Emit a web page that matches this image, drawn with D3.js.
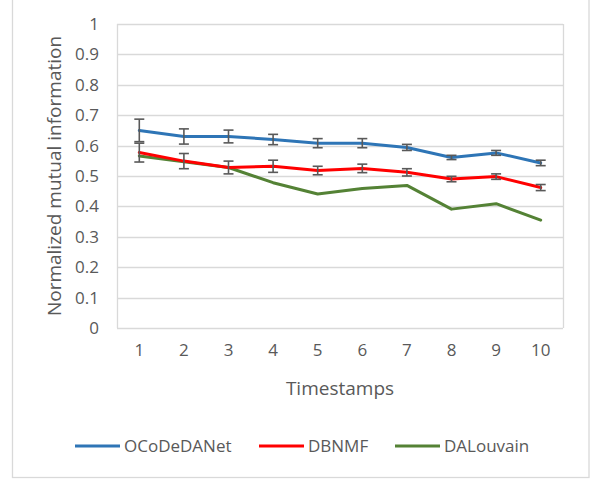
<!DOCTYPE html>
<html><head><meta charset="utf-8">
<script src="https://cdn.jsdelivr.net/npm/d3@7"></script>
<style>body{margin:0;background:#fff;}svg{display:block;}text{font-family:"Open Sans",sans-serif;fill:#595959;}</style>
</head><body>
<svg id="c" width="595" height="479"></svg>
<script>
const categories = [1,2,3,4,5,6,7,8,9,10];
const yTicks = [0,0.1,0.2,0.3,0.4,0.5,0.6,0.7,0.8,0.9,1];
const ocodedanet = [0.650,0.630,0.630,0.620,0.608,0.608,0.594,0.561,0.576,0.543];
const ocodedanetErr = [0.037,0.025,0.021,0.017,0.015,0.015,0.010,0.007,0.008,0.009];
const dbnmf = [0.577,0.549,0.528,0.532,0.518,0.525,0.512,0.490,0.498,0.462];
const dbnmfErr = [0.031,0.025,0.021,0.020,0.014,0.014,0.012,0.009,0.009,0.010];
const dalouvain = [0.566,0.547,0.528,0.478,0.441,0.459,0.469,0.391,0.409,0.355];

const series = [
  {name:"OCoDeDANet", values:ocodedanet, err:ocodedanetErr, color:"#2E75B6"},
  {name:"DBNMF", values:dbnmf, err:dbnmfErr, color:"#FF0000"},
  {name:"DALouvain", values:dalouvain, err:null, color:"#548235"}
];

const svg = d3.select("#c");
const L=117, R=563, T=24, B=328;
const x = d3.scaleBand().domain(categories).range([L,R]);
const y = d3.scaleLinear().domain([0,1]).range([B,T]);
const cx = d => x(d)+x.bandwidth()/2;

// outer frame
svg.append("rect").attr("x",12.5).attr("y",-1).attr("width",576.5).attr("height",478.5)
  .attr("fill","#fff").attr("stroke","#d9d9d9").attr("stroke-width",1.3);

// gridlines
svg.append("g").selectAll("line").data(yTicks).join("line")
  .attr("x1",L).attr("x2",R).attr("y1",d=>Math.round(y(d))+0.5).attr("y2",d=>Math.round(y(d))+0.5)
  .attr("stroke","#d9d9d9").attr("stroke-width",1.3);
// plot area left/right border
svg.append("line").attr("x1",L+0.5).attr("x2",L+0.5).attr("y1",T).attr("y2",B).attr("stroke","#d9d9d9").attr("stroke-width",1.3);
svg.append("line").attr("x1",R+0.5).attr("x2",R+0.5).attr("y1",T).attr("y2",B).attr("stroke","#d9d9d9").attr("stroke-width",1.3);

// y axis labels
const yAxis = d3.axisLeft(y).tickValues(yTicks).tickSize(0).tickPadding(18).tickFormat(d=>d3.format("")(+d.toFixed(1)));
const gy = svg.append("g").attr("transform",`translate(${L},0)`).call(yAxis);
gy.select(".domain").remove();
gy.selectAll("text").attr("font-size",17).attr("font-family","Open Sans").attr("fill","#595959");

// x axis labels
const xAxis = d3.axisBottom(x).tickSize(0).tickPadding(16);
const gx = svg.append("g").attr("transform",`translate(0,${B})`).call(xAxis);
gx.select(".domain").remove();
gx.selectAll("text").attr("font-size",17).attr("font-family","Open Sans").attr("fill","#595959");

// axis titles
svg.append("text").attr("x",(L+R)/2).attr("y",395).attr("text-anchor","middle").attr("font-size",19).text("Timestamps");
svg.append("text").attr("transform",`translate(61,${(T+B)/2}) rotate(-90)`).attr("text-anchor","middle").attr("font-size",19).text("Normalized mutual information");

// lines
const line = d3.line().x((d,i)=>cx(categories[i])).y(d=>y(d));
const order = [series[2], series[1], series[0]];
order.forEach(s=>{
  svg.append("path").datum(s.values).attr("d",line).attr("fill","none")
    .attr("stroke",s.color).attr("stroke-width",3).attr("stroke-linejoin","round").attr("stroke-linecap","round");
});

// error bars
series.filter(s=>s.err).forEach(s=>{
  const g = svg.append("g").attr("stroke","#595959").attr("stroke-width",1.6).attr("fill","none");
  s.values.forEach((v,i)=>{
    const xx = cx(categories[i]);
    const y1 = y(v+s.err[i]), y2 = y(v-s.err[i]);
    g.append("line").attr("x1",xx).attr("x2",xx).attr("y1",y1).attr("y2",y2);
    g.append("line").attr("x1",xx-5).attr("x2",xx+5).attr("y1",y1).attr("y2",y1);
    g.append("line").attr("x1",xx-5).attr("x2",xx+5).attr("y1",y2).attr("y2",y2);
  });
});

// legend
const legX = [75, 259, 395];
series.forEach((s,i)=>{
  const g = svg.append("g").attr("transform",`translate(${legX[i]},446)`);
  g.append("line").attr("x1",0).attr("x2",45).attr("y1",0).attr("y2",0).attr("stroke",s.color).attr("stroke-width",3);
  g.append("text").attr("x",49).attr("y",6).attr("font-size",17).text(s.name);
});
</script>
</body></html>
